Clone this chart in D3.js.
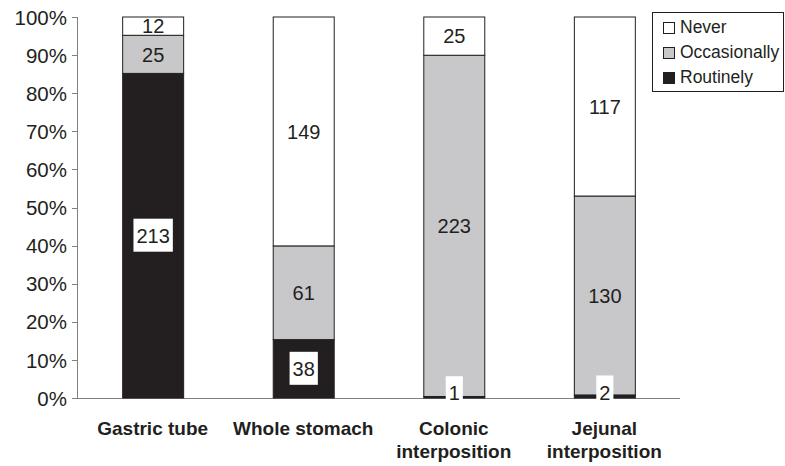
<!DOCTYPE html>
<html lang="en">
<head>
<meta charset="utf-8">
<title>Use of conduits</title>
<script src="https://cdn.jsdelivr.net/npm/d3@7"></script>
<style>
  body { margin: 0; background: #fff; }
  svg text { font-family: "Liberation Sans", Arial, sans-serif; fill: #231f20; }
  .axis path, .axis line { stroke: #808080; shape-rendering: crispEdges; }
</style>
</head>
<body>
<script>
// data
var categories = ["Gastric tube", "Whole stomach", "Colonic interposition", "Jejunal interposition"];
var catLines = [["Gastric tube"], ["Whole stomach"], ["Colonic", "interposition"], ["Jejunal", "interposition"]];
var seriesNames = ["Routinely", "Occasionally", "Never"];
var routinely = [213, 38, 1, 2];
var occasionally = [25, 61, 223, 130];
var never = [12, 149, 25, 117];
var yTicks = [0, 0.1, 0.2, 0.3, 0.4, 0.5, 0.6, 0.7, 0.8, 0.9, 1];

var colors = { Routinely: "#231f20", Occasionally: "#c8c8ca", Never: "#ffffff" };

var w = 785, h = 466;
var plotLeft = 77, plotRight = 680, plotTop = 17, plotBottom = 398;

var rows = categories.map(function(c, i) {
  return { cat: c, Routinely: routinely[i], Occasionally: occasionally[i], Never: never[i] };
});

var svg = d3.select("body").append("svg").attr("width", w).attr("height", h);

var x = d3.scaleBand().domain(categories).range([plotLeft, plotRight]).paddingInner(0.595).paddingOuter(0.3);
var y = d3.scaleLinear().domain([0, 1]).range([plotBottom, plotTop]);

var stack = d3.stack().keys(seriesNames).offset(d3.stackOffsetExpand);
var layers = stack(rows);

// axes
var yAxis = d3.axisLeft(y).tickValues(yTicks).tickFormat(d3.format(".0%")).tickSize(5).tickPadding(5);
var gy = svg.append("g").attr("class", "axis").attr("transform", "translate(" + plotLeft + ",0)").call(yAxis);
gy.select(".domain").attr("d", "M0.5," + plotTop + "V" + plotBottom);
gy.selectAll("text").style("font-size", "20.5px").attr("dy", "0.35em");

svg.append("line").attr("class", "axis")
  .attr("x1", plotLeft).attr("x2", plotRight).attr("y1", plotBottom + 0.5).attr("y2", plotBottom + 0.5)
  .attr("stroke", "#808080");

// bars
svg.selectAll("g.layer").data(layers).enter().append("g").attr("class", "layer")
  .attr("fill", function(d) { return colors[d.key]; })
  .selectAll("rect").data(function(d) { return d; }).enter().append("rect")
  .attr("x", function(d) { return x(d.data.cat) + 0.5; })
  .attr("width", x.bandwidth())
  .attr("y", function(d) { return y(d[1]); })
  .attr("height", function(d) { return y(d[0]) - y(d[1]); })
  .attr("stroke", "#231f20").attr("stroke-width", 1);

// value labels (tiny segments sit their label a little higher, like the original)
layers.forEach(function(layer) {
  layer.forEach(function(d) {
    var cx = x(d.data.cat) + x.bandwidth() / 2 + 0.5;
    var cy = (y(d[0]) + y(d[1])) / 2;
    if (y(d[0]) - y(d[1]) < 10) cy -= 4;
    var g = svg.append("g");
    var t = g.append("text").attr("x", cx).attr("y", cy).attr("dy", "0.36em")
      .attr("text-anchor", "middle").style("font-size", "20px").text(d.data[layer.key]);
    if (layer.key === "Routinely") {
      var bb = t.node().getBBox();
      var padX = 3;
      g.insert("rect", "text").attr("x", bb.x - padX).attr("width", bb.width + 2 * padX)
        .attr("y", cy - 17).attr("height", 33).attr("fill", "#fff");
    }
  });
});

// x labels
categories.forEach(function(c, i) {
  var t = svg.append("text").attr("x", x(c) + x.bandwidth() / 2).attr("y", 435)
    .attr("text-anchor", "middle").style("font-size", "19px").style("font-weight", "bold");
  catLines[i].forEach(function(line, j) {
    t.append("tspan").attr("x", x(c) + x.bandwidth() / 2).attr("dy", j === 0 ? 0 : 23).text(line);
  });
});

// legend
var lg = svg.append("g");
lg.append("rect").attr("x", 652.5).attr("y", 12.5).attr("width", 131).attr("height", 79)
  .attr("fill", "#fff").attr("stroke", "#231f20");
var legendItems = ["Never", "Occasionally", "Routinely"];
legendItems.forEach(function(k, i) {
  var base = 33 + i * 25;
  lg.append("rect").attr("x", 663.5).attr("y", base - 10.5).attr("width", 11).attr("height", 11)
    .attr("fill", colors[k]).attr("stroke", "#231f20");
  lg.append("text").attr("x", 680).attr("y", base)
    .style("font-size", "17.5px").text(k);
});
</script>
</body>
</html>
